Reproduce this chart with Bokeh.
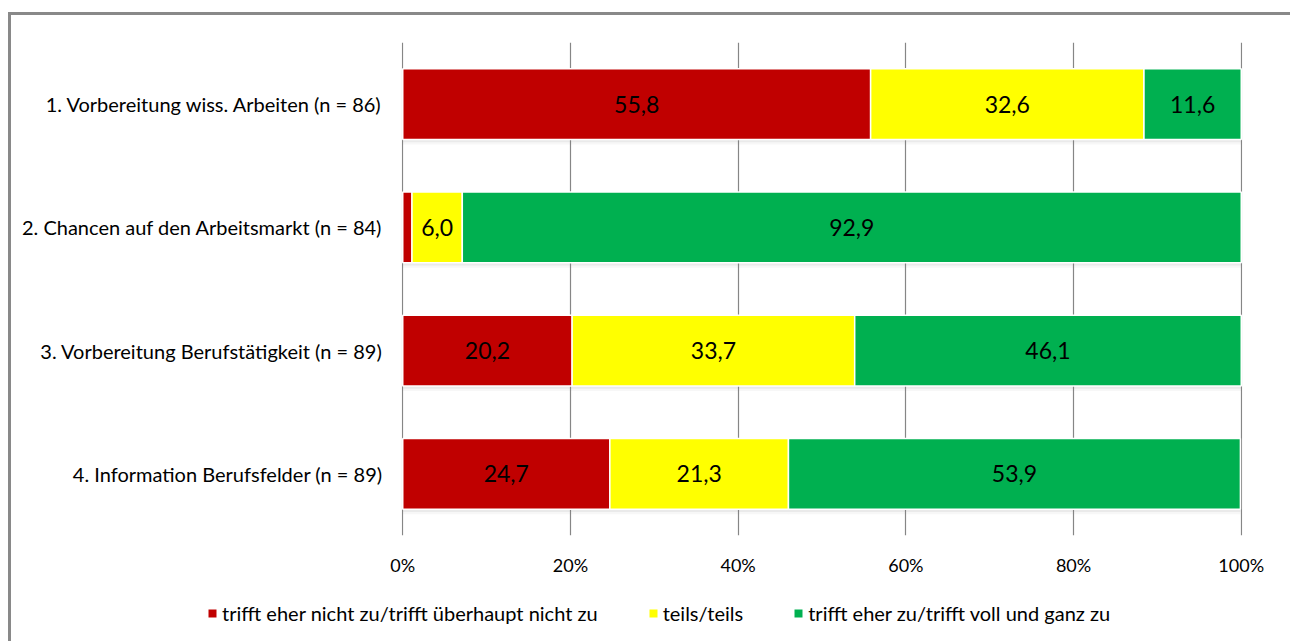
from bokeh.plotting import figure
from bokeh.models import (ColumnDataSource, Legend, LegendItem, FixedTicker,
                          Range1d)
from bokeh.core.properties import value
from bokeh.embed import file_html
from bokeh.resources import INLINE

# Survey items and answer shares (percent)
categories = [
    "1. Vorbereitung wiss. Arbeiten (n = 86)",
    "2. Chancen auf den Arbeitsmarkt (n = 84)",
    "3. Vorbereitung Berufstätigkeit (n = 89)",
    "4. Information Berufsfelder (n = 89)",
]
disagree = [55.8, 1.1, 20.2, 24.7]
partly = [32.6, 6.0, 33.7, 21.3]
agree = [11.6, 92.9, 46.1, 53.9]

series_names = [
    "trifft eher nicht zu/trifft überhaupt nicht zu",
    "teils/teils",
    "trifft eher zu/trifft voll und ganz zu",
]
series_colors = ["#C00000", "#FFFF00", "#00B050"]
x_ticks = [0, 20, 40, 60, 80, 100]
x_tick_labels = ["0%", "20%", "40%", "60%", "80%", "100%"]

FONT = "Lato"
BORDER = "3px solid #898989"
n = len(categories)
ypos = [n - i for i in range(n)]  # first item on top

p = figure(width=1282, height=575, output_backend="svg", toolbar_location=None,
           x_range=Range1d(-0.15, 100.15), y_range=Range1d(0.5, n + 0.5),
           min_border_left=390, min_border_right=51,
           min_border_top=27, min_border_bottom=55)
p.margin = (12, 0, 0, 8)
p.styles = {"border-left": BORDER, "border-top": BORDER}
p.outline_line_color = None
p.background_fill_color = "white"
p.border_fill_color = "white"

# axes
p.xaxis.ticker = FixedTicker(ticks=x_ticks)
p.xaxis.major_label_overrides = {t: l for t, l in zip(x_ticks, x_tick_labels)}
p.yaxis.ticker = FixedTicker(ticks=ypos)
p.yaxis.major_label_overrides = {y: c for y, c in zip(ypos, categories)}
for ax in (p.xaxis[0], p.yaxis[0]):
    ax.axis_line_color = None
    ax.major_tick_line_color = None
    ax.minor_tick_line_color = None
    ax.major_label_text_font = FONT
    ax.major_label_text_color = "#000000"
p.xaxis.major_label_text_font_size = "18px"
p.yaxis.major_label_text_font_size = "20px"
p.xaxis.major_label_standoff = 12
p.yaxis.major_label_standoff = 13

p.xgrid.ticker = FixedTicker(ticks=x_ticks)
p.xgrid.grid_line_color = "#868686"
p.xgrid.grid_line_width = 1.2
p.ygrid.grid_line_color = None

# stacked segments
bar_h = 0.575
series = [disagree, partly, agree]
lefts = [0.0] * n
label_x, label_y, label_t = [], [], []
for vals, col in zip(series, series_colors):
    rights = [l + v for l, v in zip(lefts, vals)]
    src = ColumnDataSource(dict(y=ypos, left=lefts, right=rights))
    # soft drop shadow under each bar
    for off, a in ((0.022, 0.10), (0.040, 0.06)):
        p.hbar(y=[y - off for y in ypos], left=lefts, right=rights, height=bar_h,
               fill_color="#7f7f7f", fill_alpha=a, line_color=None)
    p.hbar(y="y", left="left", right="right", height=bar_h, source=src,
           fill_color=col, line_color="white", line_width=1.5)
    for y, l, v in zip(ypos, lefts, vals):
        if v >= 3:
            label_x.append(l + v / 2)
            label_y.append(y)
            label_t.append(f"{v:.1f}".replace(".", ","))
    lefts = rights

p.text(x=label_x, y=label_y, text=label_t, text_align="center",
       text_baseline="middle", text_font=value(FONT), text_font_size="23px",
       text_color="#000000")

# legend strip below the chart
lf = figure(width=1282, height=54, output_backend="svg", toolbar_location=None,
            x_range=Range1d(0, 1282), y_range=Range1d(0, 54),
            min_border=0, x_axis_type=None, y_axis_type=None)
lf.margin = (0, 0, 0, 8)
lf.styles = {"border-left": BORDER}
lf.outline_line_color = None
lf.xgrid.grid_line_color = None
lf.ygrid.grid_line_color = None
# swatch renderers sit outside the visible range; only the legend shows them
swatches = [lf.hbar(y=[-100], left=[-100], right=[-99], height=1, fill_color=c,
                    line_color=None) for c in series_colors]
legend = Legend(items=[LegendItem(label=nm, renderers=[r])
                       for nm, r in zip(series_names, swatches)],
                orientation="horizontal", location=(196, 16),
                glyph_width=10, glyph_height=10, label_standoff=5, spacing=50,
                padding=0, margin=0, border_line_color=None,
                background_fill_alpha=0, label_text_font=FONT,
                label_text_font_size="20px", label_text_color="#000000")
lf.add_layout(legend, "center")

open("out.html", "w").write(file_html([p, lf], INLINE))
